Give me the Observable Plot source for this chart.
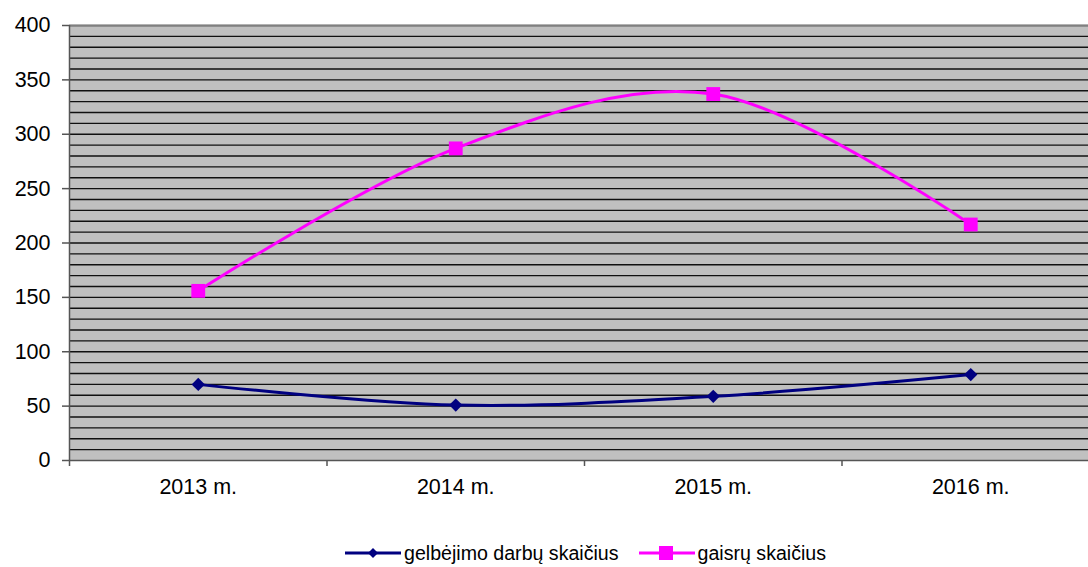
<!DOCTYPE html>
<html>
<head>
<meta charset="utf-8">
<script src="https://cdn.jsdelivr.net/npm/d3@7"></script>
<script src="https://cdn.jsdelivr.net/npm/@observablehq/plot@0.6"></script>
<style>
  html, body { margin: 0; padding: 0; background: #fff; }
  body { width: 1088px; height: 567px; position: relative; overflow: hidden; font-family: "Liberation Sans", Arial, sans-serif; }
  #legend { position: absolute; left: 345px; top: 540px; display: flex; align-items: center; font-size: 19.6px; color: #000; }
  #legend .item { display: flex; align-items: center; margin-right: 20px; }
  #legend svg { margin-right: 3px; }
</style>
</head>
<body>
<div id="chart"></div>
<div id="legend"></div>
<script>
const categories = ["2013 m.", "2014 m.", "2015 m.", "2016 m."];
const rescueWork = [70, 51, 59, 79];
const fires = [156, 287, 337, 217];
const seriesNames = ["gelbėjimo darbų skaičius", "gaisrų skaičius"];
const seriesColors = ["#000080", "#ff00ff"];
const yTicks = [0, 50, 100, 150, 200, 250, 300, 350, 400];
const yGrid = d3.range(10, 401, 10);

const rows = [];
categories.forEach((c, i) => {
  rows.push({i, cat: c, s: seriesNames[0], v: rescueWork[i]});
  rows.push({i, cat: c, s: seriesNames[1], v: fires[i]});
});
const rescueRows = rows.filter(d => d.s === seriesNames[0]);
const fireRows = rows.filter(d => d.s === seriesNames[1]);

const chart = Plot.plot({
  width: 1088,
  height: 520,
  marginLeft: 69,
  marginRight: 0,
  marginTop: 25,
  marginBottom: 60,
  style: {fontFamily: "Liberation Sans, Arial, sans-serif", fontSize: "21.5px", color: "#000", background: "#fff", overflow: "visible"},
  x: {type: "linear", domain: [-0.5, 3.5], range: [69, 1099]},
  y: {domain: [0, 400]},
  marks: [
    Plot.frame({fill: "#c0c0c0", stroke: null}),
    Plot.ruleY(yGrid, {stroke: "#111", strokeWidth: 1.3}),
    Plot.ruleY([400], {stroke: "#808080", strokeWidth: 1.5}),
    Plot.axisY({ticks: yTicks, tickSize: 7, tickPadding: 12, tickFormat: d => d, label: null, stroke: "#555", strokeWidth: 1.5}),
    Plot.axisX({ticks: [0, 1, 2, 3], tickSize: 0, tickPadding: 18, tickFormat: i => categories[i], label: null}),
    Plot.axisX({ticks: [-0.5, 0.5, 1.5, 2.5], tickSize: 6, tickFormat: () => "", label: null, stroke: "#555", strokeWidth: 1.5}),
    Plot.ruleX([-0.5], {stroke: "#555", strokeWidth: 1.5}),
    Plot.ruleY([0], {stroke: "#555", strokeWidth: 1.5}),
    Plot.line(rescueRows, {x: "i", y: "v", stroke: seriesColors[0], strokeWidth: 3, curve: "cardinal"}),
    Plot.line(fireRows, {x: "i", y: "v", stroke: seriesColors[1], strokeWidth: 3, curve: "cardinal"}),
    Plot.dot(rescueRows, {x: "i", y: "v", symbol: "diamond2", r: 6, fill: seriesColors[0], stroke: null}),
    Plot.dot(fireRows, {x: "i", y: "v", symbol: "square", r: 7.8, fill: seriesColors[1], stroke: null})
  ]
});
document.getElementById("chart").appendChild(chart);

const legend = document.getElementById("legend");
const symbolPaths = [
  '<path d="M28,8 L33,13 L28,18 L23,13 Z" />',
  '<rect x="20" y="6" width="14" height="14" />'
];
seriesNames.forEach((name, k) => {
  const item = document.createElement("div");
  item.className = "item";
  item.innerHTML = `<svg width="56" height="26" viewBox="0 0 56 26"><line x1="0" x2="56" y1="13" y2="13" stroke="${seriesColors[k]}" stroke-width="3"/><g fill="${seriesColors[k]}">${symbolPaths[k]}</g></svg><span>${name}</span>`;
  legend.appendChild(item);
});
</script>
</body>
</html>
